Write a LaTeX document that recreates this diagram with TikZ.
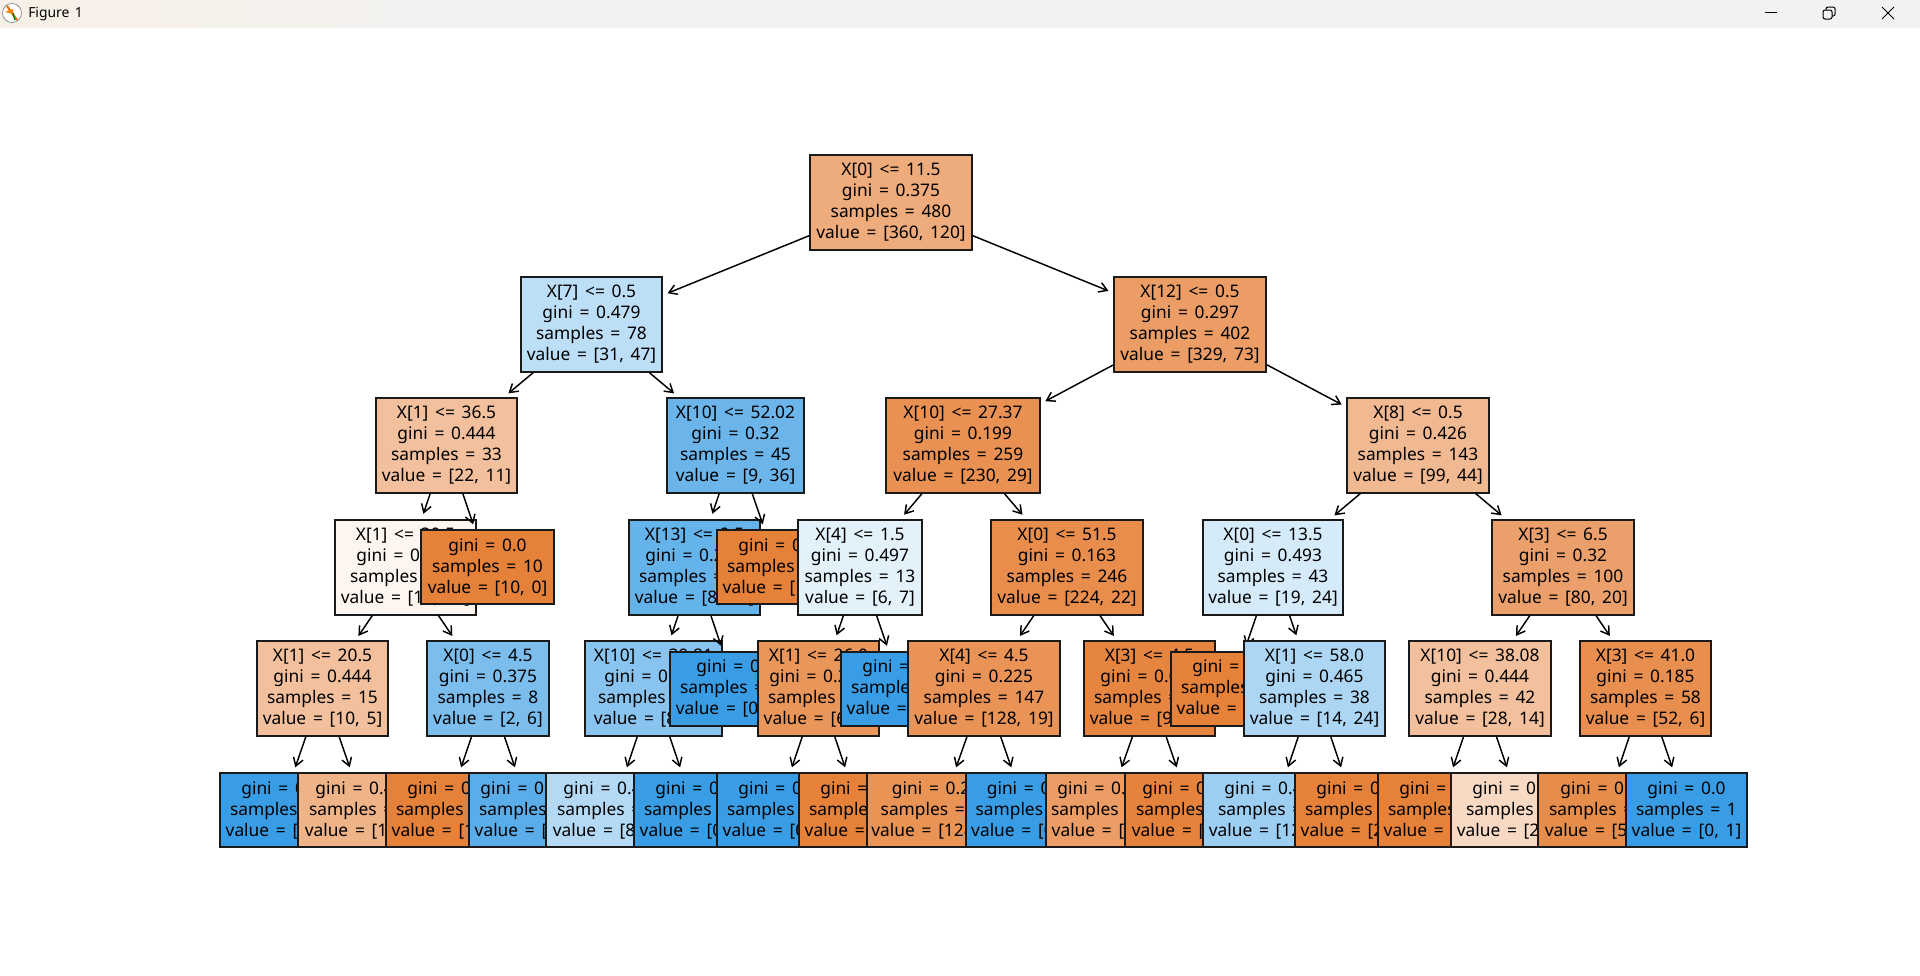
\documentclass[tikz,border=0pt]{standalone}
\usepackage{fontspec}
\setmainfont[WordSpace=1.5]{Noto Sans}
\usetikzlibrary{arrows.meta}
\definecolor{co}{RGB}{229,129,57}
\definecolor{cb}{RGB}{57,157,229}
\definecolor{barL}{RGB}{247,240,230}
\definecolor{barR}{RGB}{241,242,244}
\definecolor{ink}{RGB}{26,26,26}
\tikzset{
  box/.style={draw=ink,line width=1.5pt,rectangle,inner sep=0pt,align=center,text=black,font=\fontsize{13}{15.75}\selectfont},
  w/.style={minimum width=#1*0.75pt},
  h4/.style={minimum height=71.25pt},
  h3/.style={minimum height=55.5pt},
  arr/.style={draw=black,line width=1.1pt,-{Straight Barb[length=6pt,width=7.5pt]},shorten >=3.7pt},
  barlabel/.style={inner sep=0pt,anchor=west,font=\fontsize{10.4}{12}\selectfont},
  winbtn/.style={draw=black,line width=0.75pt}
}
\begin{document}
\begin{tikzpicture}[x=0.75pt,y=-0.75pt]
\useasboundingbox (0,0) rectangle (1920,975);
\shade[left color=barL,right color=barR] (0,0) rectangle (620,28);
\fill[barR] (620,0) rectangle (1920,28);
\fill[white] (0,28) rectangle (1920,975);
% title bar
\draw[gray,line width=0.5pt,fill=white] (12,13) circle (9.5);
\draw[orange!80!red,line width=1.5pt] (7,6) -- (17,20);
\fill[orange] (5,12) -- (13,9) -- (13,14) -- cycle;
\draw[green!50!black,line width=1pt] (13,13) -- (15,20);
\node[barlabel] (title) at (28,14) {Figure 1};
\draw[winbtn] (1765,12.5) -- (1777,12.5);
\draw[winbtn,rounded corners=1.5] (1823,10) rectangle (1832,19);
\draw[winbtn,rounded corners=1.5] (1826,10) -- (1826,7) -- (1835,7) -- (1835,16) -- (1832,16);
\draw[winbtn] (1882,7) -- (1894,19) (1894,7) -- (1882,19);

\node[box,h4,w=162,fill=co!66.7!white] (root) at (891,202.5) {X[0] <= 11.5\\gini = 0.375\\samples = 480\\value = [360, 120]};
\node[box,h4,w=141,fill=cb!34!white] (a) at (591.5,324) {X[7] <= 0.5\\gini = 0.479\\samples = 78\\value = [31, 47]};
\draw[arr] (root) -- (a);
\node[box,h4,w=141,fill=co!50!white] (aa) at (446.5,445) {X[1] <= 36.5\\gini = 0.444\\samples = 33\\value = [22, 11]};
\draw[arr] (a) -- (aa);
\node[box,h4,w=141,fill=co!8.3!white] (aaa) at (405.5,567) {X[1] <= 30.5\\gini = 0.499\\samples = 23\\value = [12, 11]};
\draw[arr] (aa) -- (aaa);
\node[box,h4,w=131,fill=co!50!white] (aaaa) at (322.5,688.5) {X[1] <= 20.5\\gini = 0.444\\samples = 15\\value = [10, 5]};
\draw[arr] (aaa) -- (aaaa);
\node[box,h3,w=121,fill=cb] (l1) at (280.5,810) {gini = 0.0\\samples = 1\\value = [0, 1]};
\draw[arr] (aaaa) -- (l1);
\node[box,h3,w=133,fill=co!60!white] (l2) at (364.5,810) {gini = 0.408\\samples = 14\\value = [10, 4]};
\draw[arr] (aaaa) -- (l2);
\node[box,h4,w=122,fill=cb!66.7!white] (aaab) at (488,688.5) {X[0] <= 4.5\\gini = 0.375\\samples = 8\\value = [2, 6]};
\draw[arr] (aaa) -- (aaab);
\node[box,h3,w=121,fill=co] (l3) at (446.5,810) {gini = 0.0\\samples = 1\\value = [1, 0]};
\draw[arr] (aaab) -- (l3);
\node[box,h3,w=121,fill=cb!83.3!white] (l4) at (529.5,810) {gini = 0.245\\samples = 7\\value = [1, 6]};
\draw[arr] (aaab) -- (l4);
\node[box,h3,w=133,fill=co] (l5) at (487.5,567) {gini = 0.0\\samples = 10\\value = [10, 0]};
\draw[arr] (aa) -- (l5);
\node[box,h4,w=137,fill=cb!75!white] (ab) at (735.5,445) {X[10] <= 52.02\\gini = 0.32\\samples = 45\\value = [9, 36]};
\draw[arr] (a) -- (ab);
\node[box,h4,w=131,fill=cb!77.8!white] (aba) at (694.5,567) {X[13] <= 0.5\\gini = 0.298\\samples = 44\\value = [8, 36]};
\draw[arr] (ab) -- (aba);
\node[box,h4,w=137,fill=cb!60!white] (abaa) at (653.5,688.5) {X[10] <= 39.81\\gini = 0.408\\samples = 28\\value = [8, 20]};
\draw[arr] (aba) -- (abaa);
\node[box,h3,w=133,fill=cb!38.5!white] (l6) at (612.5,810) {gini = 0.472\\samples = 21\\value = [8, 13]};
\draw[arr] (abaa) -- (l6);
\node[box,h3,w=121,fill=cb] (l7) at (694.5,810) {gini = 0.0\\samples = 7\\value = [0, 7]};
\draw[arr] (abaa) -- (l7);
\node[box,h3,w=131,fill=cb] (l8) at (735.5,688.5) {gini = 0.0\\samples = 16\\value = [0, 16]};
\draw[arr] (aba) -- (l8);
\node[box,h3,w=121,fill=co] (l9) at (777.5,567) {gini = 0.0\\samples = 1\\value = [1, 0]};
\draw[arr] (ab) -- (l9);
\node[box,h4,w=152,fill=co!77.8!white] (b) at (1190,324) {X[12] <= 0.5\\gini = 0.297\\samples = 402\\value = [329, 73]};
\draw[arr] (root) -- (b);
\node[box,h4,w=154,fill=co!87.4!white] (ba) at (963,445) {X[10] <= 27.37\\gini = 0.199\\samples = 259\\value = [230, 29]};
\draw[arr] (b) -- (ba);
\node[box,h4,w=124,fill=cb!14.3!white] (baa) at (860,567) {X[4] <= 1.5\\gini = 0.497\\samples = 13\\value = [6, 7]};
\draw[arr] (ba) -- (baa);
\node[box,h4,w=121,fill=co!83.3!white] (baaa) at (818.5,688.5) {X[1] <= 26.0\\gini = 0.245\\samples = 7\\value = [6, 1]};
\draw[arr] (baa) -- (baaa);
\node[box,h3,w=121,fill=cb] (l10) at (777.5,810) {gini = 0.0\\samples = 1\\value = [0, 1]};
\draw[arr] (baaa) -- (l10);
\node[box,h3,w=121,fill=co] (l11) at (859.5,810) {gini = 0.0\\samples = 6\\value = [6, 0]};
\draw[arr] (baaa) -- (l11);
\node[box,h3,w=121,fill=cb] (l12) at (901.5,688.5) {gini = 0.0\\samples = 6\\value = [0, 6]};
\draw[arr] (baa) -- (l12);
\node[box,h4,w=152,fill=co!90.2!white] (bab) at (1067,567) {X[0] <= 51.5\\gini = 0.163\\samples = 246\\value = [224, 22]};
\draw[arr] (ba) -- (bab);
\node[box,h4,w=152,fill=co!85.2!white] (baba) at (984,688.5) {X[4] <= 4.5\\gini = 0.225\\samples = 147\\value = [128, 19]};
\draw[arr] (bab) -- (baba);
\node[box,h3,w=148,fill=co!85.9!white] (l13) at (941,810) {gini = 0.217\\samples = 146\\value = [128, 18]};
\draw[arr] (baba) -- (l13);
\node[box,h3,w=121,fill=cb] (l14) at (1026,810) {gini = 0.0\\samples = 1\\value = [0, 1]};
\draw[arr] (baba) -- (l14);
\node[box,h4,w=131,fill=co!96.9!white] (babb) at (1149.5,688.5) {X[3] <= 4.5\\gini = 0.059\\samples = 99\\value = [96, 3]};
\draw[arr] (bab) -- (babb);
\node[box,h3,w=121,fill=co!77.8!white] (l15) at (1106.5,810) {gini = 0.298\\samples = 11\\value = [9, 2]};
\draw[arr] (babb) -- (l15);
\node[box,h3,w=133,fill=co!98.9!white] (l16) at (1191.5,810) {gini = 0.022\\samples = 88\\value = [87, 1]};
\draw[arr] (babb) -- (l16);
\node[box,h4,w=142,fill=co!55.6!white] (bb) at (1418,445) {X[8] <= 0.5\\gini = 0.426\\samples = 143\\value = [99, 44]};
\draw[arr] (b) -- (bb);
\node[box,h4,w=140,fill=cb!20.8!white] (bba) at (1273,567) {X[0] <= 13.5\\gini = 0.493\\samples = 43\\value = [19, 24]};
\draw[arr] (bb) -- (bba);
\node[box,h3,w=121,fill=co] (l17) at (1231.5,688.5) {gini = 0.0\\samples = 5\\value = [5, 0]};
\draw[arr] (bba) -- (l17);
\node[box,h4,w=141,fill=cb!41.7!white] (bbab) at (1314.5,688.5) {X[1] <= 58.0\\gini = 0.465\\samples = 38\\value = [14, 24]};
\draw[arr] (bba) -- (bbab);
\node[box,h3,w=141,fill=cb!50!white] (l18) at (1273.5,810) {gini = 0.444\\samples = 36\\value = [12, 24]};
\draw[arr] (bbab) -- (l18);
\node[box,h3,w=121,fill=co] (l19) at (1355.5,810) {gini = 0.0\\samples = 2\\value = [2, 0]};
\draw[arr] (bbab) -- (l19);
\node[box,h4,w=142,fill=co!75!white] (bbb) at (1563,567) {X[3] <= 6.5\\gini = 0.32\\samples = 100\\value = [80, 20]};
\draw[arr] (bb) -- (bbb);
\node[box,h4,w=142,fill=co!50!white] (bbba) at (1480,688.5) {X[10] <= 38.08\\gini = 0.444\\samples = 42\\value = [28, 14]};
\draw[arr] (bbb) -- (bbba);
\node[box,h3,w=121,fill=co] (l20) at (1438.5,810) {gini = 0.0\\samples = 8\\value = [8, 0]};
\draw[arr] (bbba) -- (l20);
\node[box,h3,w=141,fill=co!30!white] (l21) at (1521.5,810) {gini = 0.484\\samples = 34\\value = [20, 14]};
\draw[arr] (bbba) -- (l21);
\node[box,h4,w=131,fill=co!88.5!white] (bbbb) at (1645.5,688.5) {X[3] <= 41.0\\gini = 0.185\\samples = 58\\value = [52, 6]};
\draw[arr] (bbb) -- (bbbb);
\node[box,h3,w=133,fill=co!90.4!white] (l22) at (1604.5,810) {gini = 0.16\\samples = 57\\value = [52, 5]};
\draw[arr] (bbbb) -- (l22);
\node[box,h3,w=121,fill=cb] (l23) at (1686.5,810) {gini = 0.0\\samples = 1\\value = [0, 1]};
\draw[arr] (bbbb) -- (l23);
\end{tikzpicture}
\end{document}
